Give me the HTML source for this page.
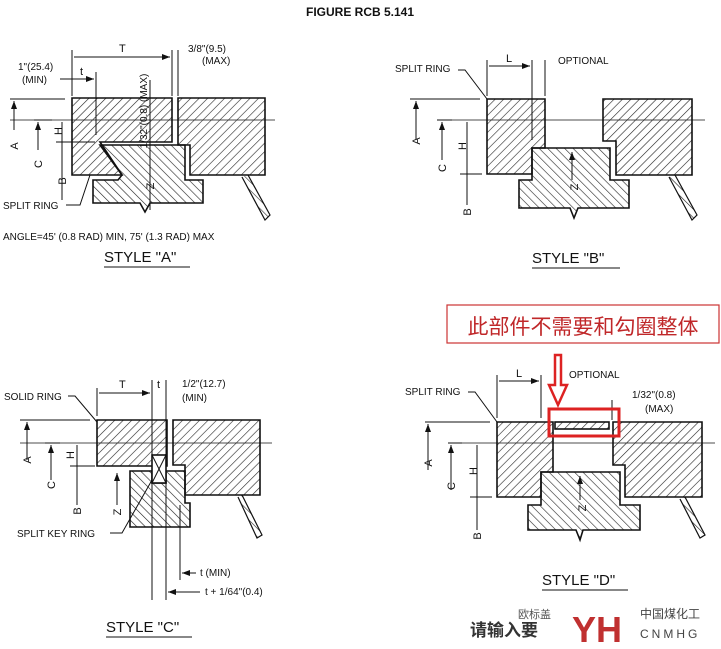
<!DOCTYPE html>
<html><head><meta charset="utf-8"><style>
body{margin:0;background:#fff;}
svg{display:block;}
text{font-family:"Liberation Sans","Noto Sans CJK SC",sans-serif;fill:#111;}
</style></head><body>
<svg width="721" height="649" viewBox="0 0 721 649" xmlns="http://www.w3.org/2000/svg">
<defs>
<pattern id="h1" patternUnits="userSpaceOnUse" width="6" height="6" patternTransform="rotate(45)"><line x1="0" y1="0" x2="0" y2="6" stroke="#222" stroke-width="1.2"/></pattern>
<pattern id="h2" patternUnits="userSpaceOnUse" width="6" height="6" patternTransform="rotate(-45)"><line x1="0" y1="0" x2="0" y2="6" stroke="#222" stroke-width="1.2"/></pattern>
<marker id="ar" markerWidth="8" markerHeight="6" refX="8" refY="3" orient="auto"><path d="M0,0 L8,3 L0,6z" fill="#111"/></marker>
</defs>
<g stroke="#111" stroke-width="1.6" fill="none">
<text x="360" y="16" text-anchor="middle" font-size="12" font-weight="bold" stroke="none">FIGURE RCB 5.141</text>

<!-- STYLE A -->
<line x1="10" y1="120" x2="275" y2="120" stroke-width="0.8"/>
<path d="M72,98 H172 V142 H100 L122,175 H72 Z" fill="url(#h1)"/>
<path d="M178,98 H265 V175 H190 V145 H178 Z" fill="url(#h1)"/>
<path d="M100,145 H185 V180 H203 V203 H150 L145,212 L140,203 H93 V180 H118 L122,175 Z" fill="url(#h2)"/>
<path d="M248,175 L270,215 L265,220 L242,177" fill="url(#h2)" stroke-width="1.2"/>
<line x1="72" y1="50" x2="72" y2="96" stroke-width="1"/>
<line x1="172" y1="50" x2="172" y2="96" stroke-width="1"/>
<line x1="178" y1="50" x2="178" y2="96" stroke-width="1"/>
<line x1="74" y1="57" x2="170" y2="57" stroke-width="1" marker-end="url(#ar)"/>
<line x1="96" y1="72" x2="96" y2="135" stroke-width="1"/>
<line x1="60" y1="79" x2="94" y2="79" stroke-width="1" marker-end="url(#ar)"/>
<line x1="150" y1="80" x2="150" y2="210" stroke-width="1"/>
<text x="119" y="52" font-size="11" stroke="none">T</text>
<text x="80" y="75" font-size="11" stroke="none">t</text>
<text x="18" y="70" font-size="10" stroke="none">1"(25.4)</text>
<text x="22" y="83" font-size="10" stroke="none">(MIN)</text>
<text x="188" y="52" font-size="10" stroke="none">3/8"(9.5)</text>
<text x="202" y="64" font-size="10" stroke="none">(MAX)</text>
<line x1="10" y1="99" x2="65" y2="99" stroke-width="1"/>
<line x1="34" y1="120" x2="52" y2="120" stroke-width="1"/>
<line x1="56" y1="142" x2="95" y2="142" stroke-width="1"/>
<line x1="14" y1="130" x2="14" y2="101" stroke-width="1" marker-end="url(#ar)"/>
<line x1="38" y1="150" x2="38" y2="122" stroke-width="1" marker-end="url(#ar)"/>
<line x1="62" y1="122" x2="62" y2="200" stroke-width="1"/>
<text x="14" y="150" font-size="11" stroke="none" transform="rotate(-90 14 146)" text-anchor="middle">A</text>
<text x="38" y="168" font-size="11" stroke="none" transform="rotate(-90 38 164)" text-anchor="middle">C</text>
<text x="58" y="135" font-size="11" stroke="none" transform="rotate(-90 58 131)" text-anchor="middle">H</text>
<text x="62" y="185" font-size="11" stroke="none" transform="rotate(-90 62 181)" text-anchor="middle">B</text>
<text x="143" y="115" font-size="10" stroke="none" transform="rotate(-90 143 111)" text-anchor="middle">1/32"(0.8) (MAX)</text>
<text x="150" y="190" font-size="11" stroke="none" transform="rotate(-90 150 186)" text-anchor="middle">Z</text>
<text x="3" y="209" font-size="10" stroke="none">SPLIT RING</text>
<path d="M66,205 H80 L90,175" stroke-width="1"/>
<text x="3" y="240" font-size="10" stroke="none">ANGLE=45' (0.8 RAD) MIN, 75' (1.3 RAD) MAX</text>
<text x="104" y="262" font-size="15" stroke="none">STYLE "A"</text>
<line x1="104" y1="267" x2="190" y2="267" stroke-width="1"/>

<!-- STYLE B -->
<line x1="440" y1="120" x2="705" y2="120" stroke-width="0.8"/>
<path d="M487,99 H545 V148 H532 V174 H487 Z" fill="url(#h1)"/>
<path d="M603,99 H692 V175 H616 V141 H603 Z" fill="url(#h1)"/>
<path d="M532,148 H610 V180 H629 V208 H578 L574,218 L570,208 H519 V180 H532 Z" fill="url(#h2)"/>
<path d="M675,175 L697,215 L692,220 L669,177" fill="url(#h2)" stroke-width="1.2"/>
<line x1="487" y1="60" x2="487" y2="96" stroke-width="1"/>
<line x1="532" y1="60" x2="532" y2="140" stroke-width="1"/>
<line x1="545" y1="60" x2="545" y2="96" stroke-width="1"/>
<line x1="489" y1="66" x2="530" y2="66" stroke-width="1" marker-end="url(#ar)"/>
<text x="506" y="62" font-size="11" stroke="none">L</text>
<text x="558" y="64" font-size="10" stroke="none">OPTIONAL</text>
<text x="395" y="72" font-size="10" stroke="none">SPLIT RING</text>
<path d="M458,70 H465 L487,99" stroke-width="1"/>
<line x1="410" y1="99" x2="480" y2="99" stroke-width="1"/>
<line x1="437" y1="120" x2="452" y2="120" stroke-width="1"/>
<line x1="460" y1="174" x2="482" y2="174" stroke-width="1"/>
<line x1="416" y1="140" x2="416" y2="101" stroke-width="1" marker-end="url(#ar)"/>
<line x1="442" y1="160" x2="442" y2="122" stroke-width="1" marker-end="url(#ar)"/>
<line x1="467" y1="122" x2="467" y2="205" stroke-width="1"/>
<text x="416" y="145" font-size="11" stroke="none" transform="rotate(-90 416 141)" text-anchor="middle">A</text>
<text x="442" y="172" font-size="11" stroke="none" transform="rotate(-90 442 168)" text-anchor="middle">C</text>
<text x="462" y="150" font-size="11" stroke="none" transform="rotate(-90 462 146)" text-anchor="middle">H</text>
<text x="467" y="216" font-size="11" stroke="none" transform="rotate(-90 467 212)" text-anchor="middle">B</text>
<line x1="572" y1="180" x2="572" y2="152" stroke-width="1" marker-end="url(#ar)"/>
<text x="574" y="191" font-size="11" stroke="none" transform="rotate(-90 574 187)" text-anchor="middle">Z</text>
<text x="532" y="263" font-size="15" stroke="none">STYLE "B"</text>
<line x1="532" y1="268" x2="620" y2="268" stroke-width="1"/>

<!-- STYLE C -->
<line x1="20" y1="443" x2="272" y2="443" stroke-width="0.8"/>
<path d="M97,420 H167 V466 H97 Z" fill="url(#h1)"/>
<path d="M173,420 H260 V495 H185 V465 H173 Z" fill="url(#h1)"/>
<path d="M130,471 H152 V483 H166 V471 H185 V503 H190 V527 H130 Z" fill="url(#h2)"/>
<rect x="152" y="455" width="14" height="28" fill="#fff"/>
<path d="M152,455 L166,483 M166,455 L152,483" stroke-width="1"/>
<path d="M242,495 L262,535 L257,538 L238,497" fill="url(#h2)" stroke-width="1.2"/>
<line x1="97" y1="388" x2="97" y2="416" stroke-width="1"/>
<line x1="99" y1="393" x2="150" y2="393" stroke-width="1" marker-end="url(#ar)"/>
<line x1="152" y1="380" x2="152" y2="600" stroke-width="1"/>
<line x1="166" y1="380" x2="166" y2="600" stroke-width="1"/>
<text x="119" y="388" font-size="11" stroke="none">T</text>
<text x="157" y="388" font-size="11" stroke="none">t</text>
<text x="182" y="387" font-size="10" stroke="none">1/2"(12.7)</text>
<text x="182" y="401" font-size="10" stroke="none">(MIN)</text>
<text x="4" y="400" font-size="10" stroke="none">SOLID RING</text>
<path d="M68,396 H75 L97,422" stroke-width="1"/>
<line x1="20" y1="420" x2="90" y2="420" stroke-width="1"/>
<line x1="45" y1="443" x2="60" y2="443" stroke-width="1"/>
<line x1="70" y1="466" x2="95" y2="466" stroke-width="1"/>
<line x1="27" y1="460" x2="27" y2="422" stroke-width="1" marker-end="url(#ar)"/>
<line x1="51" y1="480" x2="51" y2="445" stroke-width="1" marker-end="url(#ar)"/>
<line x1="77" y1="445" x2="77" y2="505" stroke-width="1"/>
<line x1="117" y1="505" x2="117" y2="473" stroke-width="1" marker-end="url(#ar)"/>
<text x="27" y="464" font-size="11" stroke="none" transform="rotate(-90 27 460)" text-anchor="middle">A</text>
<text x="51" y="489" font-size="11" stroke="none" transform="rotate(-90 51 485)" text-anchor="middle">C</text>
<text x="70" y="459" font-size="11" stroke="none" transform="rotate(-90 70 455)" text-anchor="middle">H</text>
<text x="77" y="515" font-size="11" stroke="none" transform="rotate(-90 77 511)" text-anchor="middle">B</text>
<text x="117" y="516" font-size="11" stroke="none" transform="rotate(-90 117 512)" text-anchor="middle">Z</text>
<text x="17" y="537" font-size="10" stroke="none">SPLIT KEY RING</text>
<path d="M110,533 H122 L152,480" stroke-width="1"/>
<line x1="180" y1="505" x2="180" y2="580" stroke-width="1"/>
<line x1="196" y1="573" x2="182" y2="573" stroke-width="1" marker-end="url(#ar)"/>
<text x="200" y="576" font-size="10" stroke="none">t (MIN)</text>
<line x1="200" y1="592" x2="168" y2="592" stroke-width="1" marker-end="url(#ar)"/>
<text x="205" y="595" font-size="10" stroke="none">t + 1/64"(0.4)</text>
<text x="106" y="632" font-size="15" stroke="none">STYLE "C"</text>
<line x1="106" y1="637" x2="192" y2="637" stroke-width="1"/>

<!-- STYLE D -->
<line x1="450" y1="443" x2="715" y2="443" stroke-width="0.8"/>
<path d="M497,422 H553 V472 H541 V497 H497 Z" fill="url(#h1)"/>
<path d="M613,422 H702 V497 H625 V465 H613 Z" fill="url(#h1)"/>
<path d="M541,472 H620 V505 H640 V530 H583 L580,540 L576,530 H528 V505 H541 Z" fill="url(#h2)"/>
<rect x="555" y="422" width="54" height="7" fill="url(#h1)"/>
<path d="M685,497 L705,535 L700,538 L680,499" fill="url(#h2)" stroke-width="1.2"/>
<line x1="497" y1="375" x2="497" y2="418" stroke-width="1"/>
<line x1="541" y1="375" x2="541" y2="418" stroke-width="1"/>
<line x1="499" y1="381" x2="539" y2="381" stroke-width="1" marker-end="url(#ar)"/>
<text x="516" y="377" font-size="11" stroke="none">L</text>
<text x="569" y="378" font-size="10" stroke="none">OPTIONAL</text>
<text x="405" y="395" font-size="10" stroke="none">SPLIT RING</text>
<path d="M468,392 H475 L497,422" stroke-width="1"/>
<text x="632" y="398" font-size="10" stroke="none">1/32"(0.8)</text>
<text x="645" y="412" font-size="10" stroke="none">(MAX)</text>
<line x1="612" y1="400" x2="612" y2="420" stroke-width="1"/>
<line x1="425" y1="422" x2="490" y2="422" stroke-width="1"/>
<line x1="448" y1="443" x2="462" y2="443" stroke-width="1"/>
<line x1="470" y1="497" x2="492" y2="497" stroke-width="1"/>
<line x1="428" y1="470" x2="428" y2="424" stroke-width="1" marker-end="url(#ar)"/>
<line x1="451" y1="490" x2="451" y2="445" stroke-width="1" marker-end="url(#ar)"/>
<line x1="477" y1="445" x2="477" y2="530" stroke-width="1"/>
<line x1="580" y1="500" x2="580" y2="476" stroke-width="1" marker-end="url(#ar)"/>
<text x="428" y="467" font-size="11" stroke="none" transform="rotate(-90 428 463)" text-anchor="middle">A</text>
<text x="451" y="490" font-size="11" stroke="none" transform="rotate(-90 451 486)" text-anchor="middle">C</text>
<text x="473" y="475" font-size="11" stroke="none" transform="rotate(-90 473 471)" text-anchor="middle">H</text>
<text x="477" y="540" font-size="11" stroke="none" transform="rotate(-90 477 536)" text-anchor="middle">B</text>
<text x="582" y="512" font-size="11" stroke="none" transform="rotate(-90 582 508)" text-anchor="middle">Z</text>
<text x="542" y="585" font-size="15" stroke="none">STYLE "D"</text>
<line x1="542" y1="590" x2="628" y2="590" stroke-width="1"/>
</g>

<!-- red annotation -->
<rect x="447" y="305" width="272" height="38" fill="#fff" stroke="#c33" stroke-width="1.2"/>
<text x="583" y="334" text-anchor="middle" font-size="21" style="fill:#c0282a">此部件不需要和勾圈整体</text>
<rect x="549" y="409" width="70" height="27" fill="none" stroke="#d22" stroke-width="3"/>
<path d="M555,355 H561 V385 H567 L558,405 L549,385 H555 Z" fill="none" stroke="#d22" stroke-width="2.5"/>

<!-- watermark -->
<text x="470" y="636" font-size="17" font-weight="bold" style="fill:#333">请输入要</text>
<text x="518" y="618" font-size="11" style="fill:#555">欧标盖</text>
<text x="572" y="642" font-size="36" font-weight="bold" style="fill:#c03030">YH</text>
<text x="640" y="618" font-size="12" style="fill:#444">中国煤化工</text>
<text x="640" y="638" font-size="12" style="fill:#444" letter-spacing="3">CNMHG</text>
</svg>
</body></html>
